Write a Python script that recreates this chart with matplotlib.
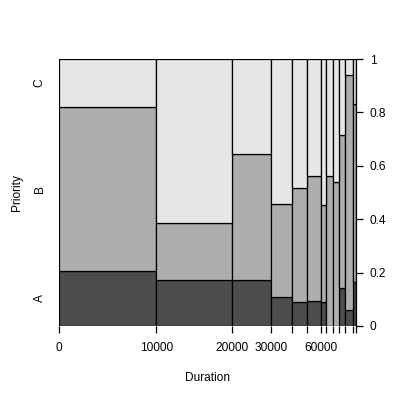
import numpy as np
import matplotlib.pyplot as plt
import matplotlib as mpl

mpl.rcParams['font.family'] = ['Liberation Sans', 'DejaVu Sans']
mpl.rcParams['font.size'] = 8.6

breaks = [0, 10000, 20000, 30000, 40000, 50000, 60000, 70000,
          80000, 90000, 100000, 110000, 120000]
break_labels = ['0', '10000', '20000', '30000', '', '', '60000',
                '', '', '', '', '', '']
count_A = [45, 29, 15, 5, 3, 3, 1, 0, 0, 2, 1, 1]
count_B = [133, 36, 41, 16, 14, 15, 4, 9, 7, 8, 15, 4]
count_C = [39, 103, 31, 25, 16, 14, 6, 7, 6, 4, 1, 1]
levels = ['A', 'B', 'C']
colors = ['#4D4D4D', '#AEAEAE', '#E6E6E6']

counts = np.array([count_A, count_B, count_C], dtype=float)
totals = counts.sum(axis=0)
props = counts / totals
widths = totals
lefts = np.concatenate([[0], np.cumsum(widths)[:-1]])
edges = np.concatenate([[0], np.cumsum(widths)])

fig = plt.figure(figsize=(4, 4), dpi=100)
ax = fig.add_axes([59 / 400, 74 / 400, 296.5 / 400, 267 / 400])

bottom = np.zeros(len(widths))
for i, lev in enumerate(levels):
    ax.bar(lefts, props[i], width=widths, bottom=bottom, align='edge',
           color=colors[i], edgecolor='black', linewidth=0.9)
    bottom += props[i]

ax.set_xlim(0, edges[-1])
ax.set_ylim(0, 1)
for s in ['top', 'left', 'bottom']:
    ax.spines[s].set_visible(False)
ax.spines['right'].set_linewidth(0.9)

# bottom axis: ticks at bin boundaries
ax.set_xticks(edges)
ax.set_xticklabels(break_labels)
ax.tick_params(axis='x', direction='out', length=5.2, width=0.9, pad=6.5)
ax.set_xlabel('Duration', labelpad=13)

# right axis: proportions
ax.yaxis.tick_right()
ax.set_yticks([0, 0.2, 0.4, 0.6, 0.8, 1])
ax.set_yticklabels(['0', '0.2', '0.4', '0.6', '0.8', '1'])
ax.tick_params(axis='y', direction='out', length=5.2, width=0.9, pad=5)

# left axis: level names placed at first bar's segments
first = props[:, 0]
mids = np.cumsum(first) - first / 2
sec = ax.secondary_yaxis('left')
sec.set_yticks(mids)
sec.set_yticklabels(levels, rotation=90, va='center')
sec.tick_params(length=0, pad=9.7)
sec.spines['left'].set_visible(False)
sec.set_ylabel('Priority', labelpad=7.5)

fig.savefig('out.png', dpi=100)
